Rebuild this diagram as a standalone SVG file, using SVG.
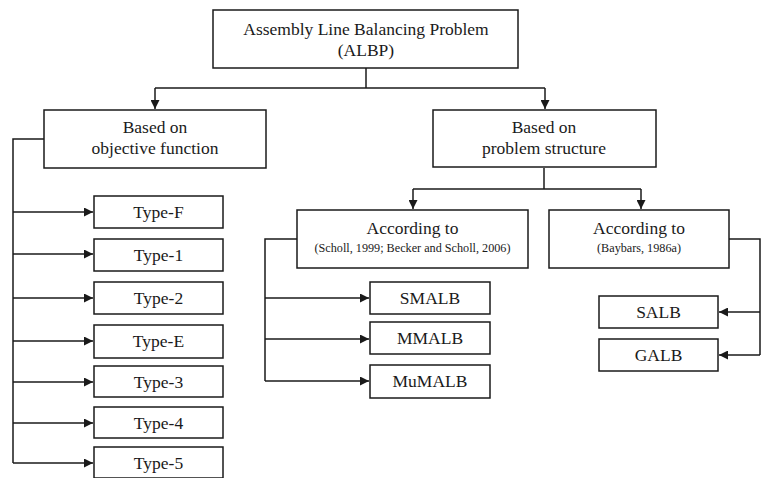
<svg xmlns="http://www.w3.org/2000/svg" width="763" height="478" viewBox="0 0 763 478">
<defs>
<style>
.box{fill:#fff;stroke:#1a1a1a;stroke-width:1.5}
.t{font-size:17.5px;fill:#1a1a1a;text-anchor:middle}
.s{font-size:12.2px;fill:#1a1a1a;text-anchor:middle}
.c{fill:none;stroke:#1a1a1a;stroke-width:1.5}
</style>
<marker id="ah" viewBox="0 0 10 10" refX="10" refY="5" markerWidth="9" markerHeight="9" markerUnits="userSpaceOnUse" orient="auto">
<path d="M0,0 L10,5 L0,10 Z" fill="#1a1a1a"/>
</marker>
</defs>
<g id="connectors">
<path class="c" d="M366,68 V88"/>
<path class="c" d="M155,88 H545"/>
<path class="c" d="M155,88 V109" marker-end="url(#ah)"/>
<path class="c" d="M545,88 V109" marker-end="url(#ah)"/>
<path class="c" d="M44,139 H13 V463"/>
<path class="c" d="M13,212 H93" marker-end="url(#ah)"/>
<path class="c" d="M13,254 H93" marker-end="url(#ah)"/>
<path class="c" d="M13,298 H93" marker-end="url(#ah)"/>
<path class="c" d="M13,341 H93" marker-end="url(#ah)"/>
<path class="c" d="M13,382 H93" marker-end="url(#ah)"/>
<path class="c" d="M13,423 H93" marker-end="url(#ah)"/>
<path class="c" d="M13,463 H93" marker-end="url(#ah)"/>
<path class="c" d="M544,168 V189"/>
<path class="c" d="M413,189 H641"/>
<path class="c" d="M413,189 V209" marker-end="url(#ah)"/>
<path class="c" d="M641,189 V209" marker-end="url(#ah)"/>
<path class="c" d="M297,239 H265 V381"/>
<path class="c" d="M265,298 H369" marker-end="url(#ah)"/>
<path class="c" d="M265,339 H369" marker-end="url(#ah)"/>
<path class="c" d="M265,381 H369" marker-end="url(#ah)"/>
<path class="c" d="M729,239 H760 V355"/>
<path class="c" d="M760,312 H719" marker-end="url(#ah)"/>
<path class="c" d="M760,355 H719" marker-end="url(#ah)"/>
</g>
<g font-family="Liberation Serif, Times New Roman, serif">
<g id="albp"><rect class="box" x="213" y="10" width="305" height="58"/><text class="t" x="366" y="35">Assembly Line Balancing Problem</text><text class="t" x="366" y="56">(ALBP)</text></g>
<g id="objective"><rect class="box" x="44" y="110" width="222" height="58"/><text class="t" x="155" y="133">Based on</text><text class="t" x="155" y="154">objective function</text></g>
<g id="structure"><rect class="box" x="433" y="110" width="223" height="57"/><text class="t" x="544" y="133">Based on</text><text class="t" x="544" y="154">problem structure</text></g>
<g id="typeF"><rect class="box" x="94" y="196" width="129" height="32"/><text class="t" x="158.5" y="218">Type-F</text></g>
<g id="type1"><rect class="box" x="94" y="239" width="129" height="32"/><text class="t" x="158.5" y="261">Type-1</text></g>
<g id="type2"><rect class="box" x="94" y="282" width="129" height="32"/><text class="t" x="158.5" y="304">Type-2</text></g>
<g id="typeE"><rect class="box" x="94" y="325" width="129" height="33"/><text class="t" x="158.5" y="347">Type-E</text></g>
<g id="type3"><rect class="box" x="94" y="366" width="129" height="31"/><text class="t" x="158.5" y="388">Type-3</text></g>
<g id="type4"><rect class="box" x="94" y="407" width="129" height="31"/><text class="t" x="158.5" y="429">Type-4</text></g>
<g id="type5"><rect class="box" x="94" y="447" width="129" height="31"/><text class="t" x="158.5" y="469">Type-5</text></g>
<g id="scholl"><rect class="box" x="297" y="210" width="231" height="58"/><text class="t" x="412.5" y="234">According to</text><text class="s" x="412.5" y="252">(Scholl, 1999; Becker and Scholl, 2006)</text></g>
<g id="baybars"><rect class="box" x="549" y="210" width="180" height="58"/><text class="t" x="639" y="234">According to</text><text class="s" x="639" y="252">(Baybars, 1986a)</text></g>
<g id="smalb"><rect class="box" x="370" y="282" width="120" height="32"/><text class="t" x="430" y="304">SMALB</text></g>
<g id="mmalb"><rect class="box" x="370" y="322" width="120" height="32"/><text class="t" x="430" y="344">MMALB</text></g>
<g id="mumalb"><rect class="box" x="370" y="365" width="120" height="33"/><text class="t" x="430" y="387">MuMALB</text></g>
<g id="salb"><rect class="box" x="599" y="296" width="119" height="32"/><text class="t" x="658.5" y="318">SALB</text></g>
<g id="galb"><rect class="box" x="599" y="339" width="119" height="32"/><text class="t" x="658.5" y="361">GALB</text></g>
</g>
</svg>
